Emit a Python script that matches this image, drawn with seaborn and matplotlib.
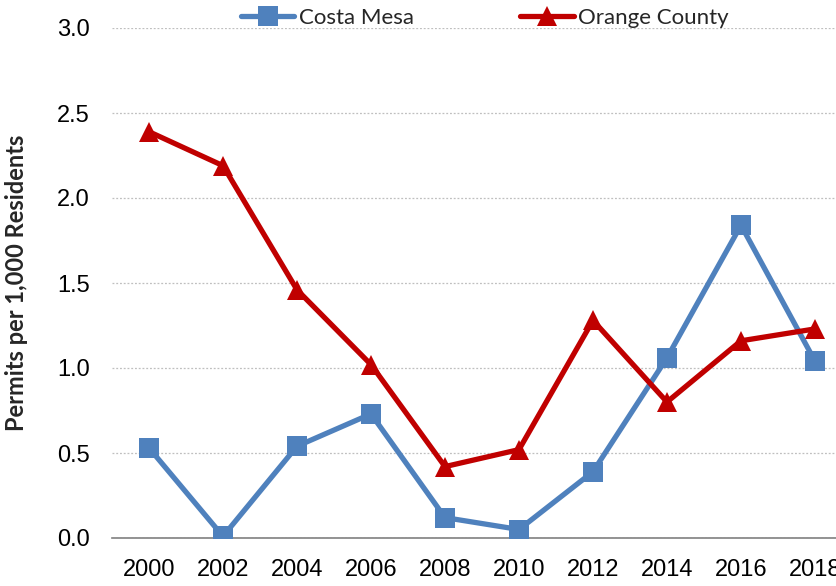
import matplotlib
matplotlib.use("Agg")
import matplotlib.pyplot as plt
import seaborn as sns
import pandas as pd
from matplotlib.lines import Line2D

years = ["2000", "2002", "2004", "2006", "2008", "2010", "2012", "2014", "2016", "2018"]
costa_mesa = [0.53, 0.01, 0.54, 0.73, 0.12, 0.05, 0.39, 1.06, 1.84, 1.04]
orange_county = [2.39, 2.19, 1.46, 1.02, 0.42, 0.52, 1.28, 0.80, 1.16, 1.23]
y_ticks = [0.0, 0.5, 1.0, 1.5, 2.0, 2.5, 3.0]

sns.set_theme(style="white")
plt.rcParams['font.family'] = ['Liberation Sans Narrow', 'Liberation Sans', 'DejaVu Sans']

blue = "#4F81BD"
red = "#C00000"

fig = plt.figure(figsize=(8.36, 5.86), dpi=100)
ax = fig.add_axes([112/836, 1-538/586, (852-112)/836, (538-28)/586])

pos = list(range(len(years)))
df_cm = pd.DataFrame({"pos": pos, "val": costa_mesa})
df_oc = pd.DataFrame({"pos": pos, "val": orange_county})

sns.lineplot(data=df_cm, x="pos", y="val", ax=ax, color=blue, linewidth=3.8,
             marker="s", markersize=14, markeredgewidth=0, zorder=3)
sns.lineplot(data=df_oc, x="pos", y="val", ax=ax, color=red, linewidth=3.8,
             marker="^", markersize=15, markeredgewidth=0, zorder=4)

ax.set_xlim(-0.5, 9.5)
ax.set_ylim(0, 3.0)
ax.set_xticks(pos)
ax.set_xticklabels(years)
ax.set_yticks(y_ticks)
ax.set_yticklabels([f"{v:.1f}" for v in y_ticks])
ax.tick_params(axis="both", length=0, labelsize=17, colors="black")
ax.tick_params(axis="y", pad=16)
ax.tick_params(axis="x", pad=15)
ax.set_xlabel("")
ax.set_ylabel("Permits per 1,000 Residents", fontsize=17, fontweight="bold",
              family=["Lato", "DejaVu Sans"])
ax.yaxis.set_label_coords(-0.113, 0.5)

ax.yaxis.grid(True, color="#BFBFBF", linestyle=(0, (1.5, 1.5)), linewidth=0.9)
ax.set_axisbelow(True)
for s in ["left", "right", "top"]:
    ax.spines[s].set_visible(False)
ax.spines["bottom"].set_color("#808080")
ax.spines["bottom"].set_linewidth(1.2)
ax.spines["bottom"].set_zorder(2)

handles = [
    Line2D([], [], color=blue, linewidth=3.8, marker="s", markersize=14, markeredgewidth=0),
    Line2D([], [], color=red, linewidth=3.8, marker="^", markersize=15, markeredgewidth=0),
]
leg = fig.legend(handles, ["Costa Mesa", "Orange County"], ncol=2, loc="center",
                 bbox_to_anchor=(0.58, 0.969), frameon=False,
                 prop={"family": ["Lato", "DejaVu Sans"], "size": 16},
                 handlelength=2.4, handletextpad=0.2, columnspacing=4.8)

fig.savefig("out.png", dpi=100)
